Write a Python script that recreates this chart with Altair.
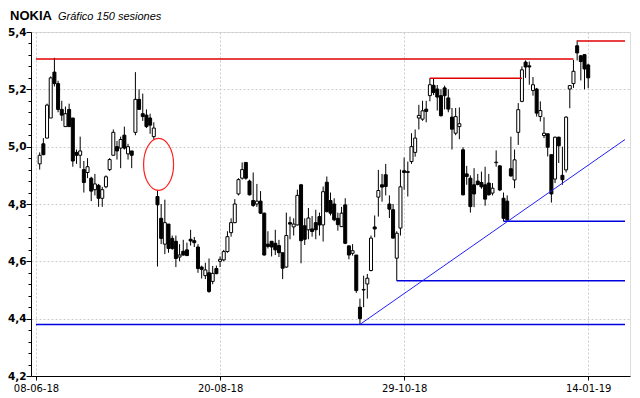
import altair as alt
import pandas as pd

# ---- data ----
opens = [4.94, 5.01, 5.03, 5.10, 5.26, 5.22, 5.13, 5.07, 5.13, 5.10,
         4.98, 4.97, 4.92, 4.91, 4.89, 4.85, 4.865, 4.82, 4.86, 4.92,
         4.97, 5.0, 4.995, 5.04, 4.975, 4.985, 5.05, 5.165, 5.115, 5.11,
         5.10, 5.035, 4.826, 4.75, 4.66, 4.73, 4.68, 4.67, 4.615, 4.635,
         4.64, 4.677, 4.672, 4.65, 4.58, 4.55, 4.56, 4.53, 4.575, 4.60,
         4.605, 4.634, 4.70, 4.735, 4.835, 4.89, 4.945, 4.88, 4.812, 4.80,
         4.81, 4.768, 4.66, 4.67, 4.663, 4.655, 4.63, 4.58, 4.735, 4.72,
         4.727, 4.867, 4.724, 4.71, 4.713, 4.735, 4.756, 4.727, 4.876, 4.812,
         4.80, 4.75, 4.721, 4.797, 4.654, 4.628, 4.622, 4.44, 4.50, 4.521,
         4.568, 4.72, 4.824, 4.867, 4.902, 4.80, 4.78, 4.611, 4.716, 4.916,
         4.91, 4.948, 4.98, 5.10, 5.096, 5.131, 5.178, 5.214, 5.201, 5.178,
         5.205, 5.17, 5.103, 5.047, 5.07, 4.989, 4.905, 4.89, 4.867, 4.88,
         4.875, 4.867, 4.873, 4.838, 4.944, 4.933, 4.82, 4.81, 4.923, 4.884,
         5.05, 5.158, 5.295, 5.282, 5.196, 5.201, 5.105, 5.039, 5.045, 4.972,
         4.887, 5.033, 4.90, 4.919, 5.201, 5.22, 5.352, 5.317, 5.321, 5.285]
highs = [4.98, 5.03, 5.15, 5.245, 5.31, 5.23, 5.16, 5.14, 5.15, 5.10,
         4.99, 5.035, 4.95, 4.96, 4.895, 4.905, 4.87, 4.86, 4.90, 4.96,
         5.06, 5.02, 5.035, 5.07, 5.01, 4.985, 5.26, 5.20, 5.185, 5.13,
         5.115, 5.085, 4.849, 4.80, 4.815, 4.73, 4.69, 4.69, 4.66, 4.675,
         4.665, 4.71, 4.685, 4.66, 4.585, 4.595, 4.61, 4.584, 4.585, 4.617,
         4.64, 4.705, 4.75, 4.817, 4.89, 4.945, 4.945, 4.885, 4.91, 4.87,
         4.845, 4.77, 4.705, 4.67, 4.71, 4.675, 4.63, 4.77, 4.756, 4.75,
         4.85, 4.87, 4.75, 4.786, 4.758, 4.78, 4.77, 4.861, 4.896, 4.84,
         4.82, 4.77, 4.79, 4.82, 4.654, 4.66, 4.622, 4.47, 4.55, 4.556,
         4.69, 4.76, 4.919, 4.905, 4.94, 4.83, 4.80, 4.705, 4.92, 4.962,
         4.948, 5.047, 5.06, 5.146, 5.16, 5.16, 5.239, 5.236, 5.215, 5.20,
         5.213, 5.20, 5.135, 5.135, 5.137, 4.998, 4.933, 4.90, 4.925, 4.905,
         4.913, 4.93, 4.905, 4.873, 4.987, 4.935, 4.84, 4.83, 5.035, 4.99,
         5.152, 5.28, 5.301, 5.297, 5.243, 5.205, 5.158, 5.103, 5.045, 4.972,
         5.035, 5.035, 5.0, 5.106, 5.213, 5.303, 5.371, 5.32, 5.321, 5.29]
lows = [4.92, 4.97, 5.03, 5.10, 5.21, 5.12, 5.09, 5.07, 5.07, 4.93,
        4.94, 4.925, 4.84, 4.89, 4.81, 4.83, 4.79, 4.79, 4.855, 4.915,
        4.97, 4.955, 4.925, 4.99, 4.955, 4.925, 5.04, 5.13, 5.09, 5.065,
        5.045, 5.025, 4.582, 4.66, 4.625, 4.63, 4.64, 4.58, 4.60, 4.62,
        4.62, 4.655, 4.65, 4.56, 4.54, 4.538, 4.49, 4.52, 4.555, 4.58,
        4.60, 4.63, 4.686, 4.733, 4.83, 4.885, 4.885, 4.83, 4.79, 4.79,
        4.765, 4.62, 4.645, 4.617, 4.622, 4.615, 4.538, 4.578, 4.677, 4.69,
        4.725, 4.593, 4.657, 4.677, 4.686, 4.677, 4.69, 4.669, 4.77, 4.76,
        4.74, 4.707, 4.72, 4.66, 4.607, 4.62, 4.49, 4.38, 4.44, 4.47,
        4.565, 4.684, 4.756, 4.808, 4.83, 4.751, 4.68, 4.532, 4.69, 4.85,
        4.826, 4.94, 4.965, 5.06, 5.09, 5.085, 5.158, 5.18, 5.126, 5.105,
        5.13, 5.12, 4.99, 5.04, 5.026, 4.83, 4.867, 4.77, 4.789, 4.865,
        4.853, 4.794, 4.83, 4.83, 4.93, 4.845, 4.74, 4.74, 4.895, 4.855,
        5.006, 5.155, 5.24, 5.216, 5.178, 5.105, 5.088, 5.03, 4.966, 4.805,
        4.873, 4.943, 4.867, 4.91, 5.134, 5.205, 5.301, 5.231, 5.20, 5.204]
closes = [4.97, 4.972, 5.145, 5.24, 5.22, 5.13, 5.11, 5.115, 5.07, 4.95,
          4.97, 4.985, 4.875, 4.93, 4.845, 4.87, 4.82, 4.85, 4.895, 4.955,
          5.05, 4.985, 5.025, 4.995, 5.0, 4.97, 5.165, 5.13, 5.105, 5.07,
          5.075, 5.065, 4.797, 4.68, 4.735, 4.645, 4.645, 4.61, 4.622, 4.622,
          4.62, 4.671, 4.665, 4.575, 4.572, 4.57, 4.495, 4.558, 4.557, 4.607,
          4.634, 4.686, 4.735, 4.80, 4.885, 4.92, 4.89, 4.832, 4.795, 4.81,
          4.768, 4.622, 4.652, 4.65, 4.64, 4.63, 4.576, 4.69, 4.73, 4.73,
          4.83, 4.672, 4.677, 4.751, 4.704, 4.71, 4.727, 4.843, 4.774, 4.768,
          4.745, 4.728, 4.768, 4.663, 4.622, 4.637, 4.498, 4.40, 4.502, 4.541,
          4.681, 4.713, 4.847, 4.859, 4.861, 4.782, 4.681, 4.698, 4.86, 4.91,
          4.913, 5.0, 5.03, 5.109, 5.125, 5.123, 5.216, 5.189, 5.173, 5.108,
          5.178, 5.131, 5.061, 5.105, 5.08, 4.832, 4.896, 4.791, 4.835, 4.868,
          4.86, 4.817, 4.832, 4.855, 4.946, 4.849, 4.75, 4.745, 4.898, 4.954,
          5.129, 5.268, 5.278, 5.278, 5.216, 5.117, 5.126, 5.047, 4.998, 4.835,
          5.033, 5.003, 4.885, 5.103, 5.213, 5.263, 5.327, 5.297, 5.271, 5.24]
sessions = list(range(1, 151))

tick_idx = [0, 50, 100, 150]
tick_labels = ["08-06-18", "20-08-18", "29-10-18", "14-01-19"]
y_major = [4.2, 4.4, 4.6, 4.8, 5.0, 5.2, 5.4]
y_minor = [4.24, 4.28, 4.32, 4.36, 4.44, 4.48, 4.52, 4.56, 4.64, 4.68,
           4.72, 4.76, 4.84, 4.88, 4.92, 4.96, 5.04, 5.08, 5.12, 5.16,
           5.24, 5.28, 5.32, 5.36]

# resistance (red) and support (blue) horizontal lines
res_x1 = [0, 107, 147]
res_x2 = [146, 132, 160]
res_y = [5.306, 5.239, 5.369]
sup_x1 = [0, 98, 127]
sup_x2 = [160, 160, 160]
sup_y = [4.38, 4.532, 4.74]
trend_x = [88, 160]
trend_y = [4.38, 5.025]
gap_x = [33.3]
gap_y = [4.938]

title_main = "NOKIA"
title_sub = "Gráfico 150 sesiones"

# ---- tables ----
df = pd.DataFrame({"i": sessions, "o": opens, "h": highs, "l": lows, "c": closes})
df["dir"] = ["up" if c >= o else "down" for o, c in zip(opens, closes)]
res_df = pd.DataFrame({"x1": res_x1, "x2": res_x2, "y": res_y})
sup_df = pd.DataFrame({"x1": sup_x1, "x2": sup_x2, "y": sup_y})
trend_df = pd.DataFrame({"x": trend_x, "y": trend_y})
gap_df = pd.DataFrame({"x": gap_x, "y": gap_y})
minor_df = pd.DataFrame({"v": y_minor})
title_df = pd.DataFrame({"a": [title_main], "b": [title_sub]})

xs = alt.Scale(domain=[0, 160], nice=False, zero=False)
ys = alt.Scale(domain=[4.2, 5.4], nice=False, zero=False)

lab_map = ", ".join(f"'{v}': '{t}'" for v, t in zip(tick_idx, tick_labels))
x_axis = alt.Axis(values=tick_idx, labelExpr="{" + lab_map + "}[datum.value]",
                  title=None, grid=True, gridColor="#cccccc", gridDash=[2, 2],
                  domainColor="black", tickColor="black", tickSize=4,
                  labelFont="DejaVu Sans", labelFontSize=10, labelColor="black",
                  labelPadding=3)
y_axis = alt.Axis(values=y_major, labelExpr="replace(format(datum.value, '.1f'), '.', ',')",
                  title=None, grid=True, gridColor="#cccccc", gridDash=[2, 2],
                  domainColor="black", tickColor="black", tickSize=5,
                  labelFont="DejaVu Sans", labelFontSize=10.5, labelFontWeight="bold",
                  labelColor="black", labelPadding=0, orient="left")

base = alt.Chart(df)
wicks = base.mark_rule(color="black", strokeWidth=1).encode(
    x=alt.X("i:Q", scale=xs, axis=x_axis),
    y=alt.Y("l:Q", scale=ys, axis=y_axis),
    y2="h:Q",
)
bodies = base.mark_bar(size=3, stroke="black", strokeWidth=1).encode(
    x=alt.X("i:Q", scale=xs),
    y=alt.Y("o:Q", scale=ys, axis=None),
    y2="c:Q",
    fill=alt.Fill("dir:N", scale=alt.Scale(domain=["up", "down"], range=["white", "black"]), legend=None),
)
minor = alt.Chart(minor_df).mark_tick(opacity=0).encode(
    y=alt.Y("v:Q", scale=ys, axis=alt.Axis(values=y_minor, labels=False, tickSize=3, domain=False,
                                           grid=False, title=None, tickColor="black", orient="left")),
)
res = alt.Chart(res_df).mark_rule(color="#e00000", strokeWidth=1.5).encode(
    x=alt.X("x1:Q", scale=xs), x2="x2:Q", y=alt.Y("y:Q", scale=ys, axis=None))
sup = alt.Chart(sup_df).mark_rule(color="#0000e0", strokeWidth=1.5).encode(
    x=alt.X("x1:Q", scale=xs), x2="x2:Q", y=alt.Y("y:Q", scale=ys, axis=None))
trend = alt.Chart(trend_df).mark_line(color="#2020ff", strokeWidth=1).encode(
    x=alt.X("x:Q", scale=xs), y=alt.Y("y:Q", scale=ys, axis=None))

ka, a, k = 0.3187, 0.577, 0.5523
ellipse = (f"M0,-1 C{ka},-1 {a},-{k} {a},0 C{a},{k} {ka},1 0,1 "
           f"C-{ka},1 -{a},{k} -{a},0 C-{a},-{k} -{ka},-1 0,-1 Z")
gap = alt.Chart(gap_df).mark_point(shape=ellipse, size=2704, filled=False,
                                   stroke="#ff2020", strokeWidth=1.2, opacity=1).encode(
    x=alt.X("x:Q", scale=xs), y=alt.Y("y:Q", scale=ys, axis=None))

t1 = alt.Chart(title_df).mark_text(align="left", baseline="alphabetic", font="Liberation Sans",
                                   fontSize=13, fontWeight="bold", color="black").encode(
    text="a:N", x=alt.value(-21), y=alt.value(-12))
t2 = alt.Chart(title_df).mark_text(align="left", baseline="alphabetic", font="Liberation Sans",
                                   fontSize=11, fontStyle="italic", color="black").encode(
    text="b:N", x=alt.value(27), y=alt.value(-12))

chart = alt.layer(wicks, bodies, res, sup, trend, gap, t1, t2, minor).resolve_axis(
    y="independent"
).properties(
    width=599, height=344,
    padding={"left": 23, "top": 24, "right": 2, "bottom": 22},
    autosize=alt.AutoSizeParams(type="none"),
).configure_view(stroke=None).configure(background="white")

chart.save("out.html", embed_options={"renderer": "svg", "actions": False})
